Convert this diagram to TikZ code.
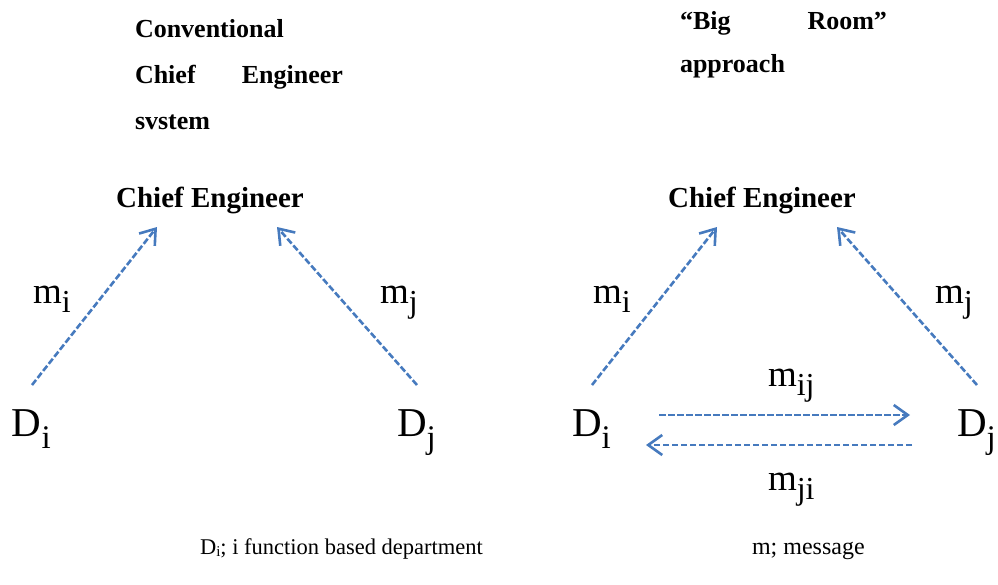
\documentclass[tikz,border=0pt]{standalone}
\usepackage{fontspec}
\setmainfont{Liberation Serif}
\usetikzlibrary{arrows.meta}
\definecolor{arrowblue}{RGB}{70,122,190}
\newcommand\dsub[1]{\raisebox{-12pt}{\fontsize{33}{33}\selectfont #1}}
\newcommand\msub[1]{\raisebox{-9pt}{\fontsize{32}{32}\selectfont #1}}
\begin{document}
\begin{tikzpicture}[x=1pt,y=-1pt,
  txt/.style={anchor=base west,inner sep=0pt,outer sep=0pt},
  head/.style={txt,font=\fontsize{26}{26}\selectfont\bfseries},
  ce/.style={anchor=base,inner sep=0pt,font=\fontsize{29}{29}\selectfont\bfseries},
  dept/.style={txt,font=\fontsize{41}{41}\selectfont},
  msg/.style={txt,font=\fontsize{37}{37}\selectfont},
  foot/.style={txt,font=\fontsize{22.5}{22.5}\selectfont},
  msgarrow/.style={draw=arrowblue,line width=2.6pt,dash pattern=on 6.5pt off 2.5pt,
    -{Straight Barb[length=14pt,width=20pt,line width=2.6pt]}}]
\useasboundingbox (0,0) rectangle (998,584);
% headings
\node[head] (h1) at (135,37) {Conventional};
\node[head] (h2) at (135,83) {\makebox[208pt]{Chief\hfill Engineer}};
\node[head] (h3) at (135,129) {svstem};
\node[head] (h4) at (680,29) {\makebox[207pt]{“Big\hfill Room”}};
\node[head] (h5) at (680,72) {approach};
% left diagram
\node[ce] (ceL) at (210,207) {Chief Engineer};
\node[dept] (diL) at (12,436) {D\dsub{i}};
\node[dept] (djL) at (397,436) {D\dsub{j}};
\node[msg] (miL) at (33,303) {m\msub{i}};
\node[msg] (mjL) at (380,303) {m\msub{j}};
\coordinate (aLs) at (32,385);
\coordinate (aLe) at (157,227);
\coordinate (bLs) at (417,385);
\coordinate (bLe) at (277,227);
\draw[msgarrow] (aLs) -- (aLe);
\draw[msgarrow] (bLs) -- (bLe);
% right diagram
\node[ce] (ceR) at (762,207) {Chief Engineer};
\node[dept] (diR) at (572,436) {D\dsub{i}};
\node[dept] (djR) at (957,436) {D\dsub{j}};
\node[msg] (miR) at (593,303) {m\msub{i}};
\node[msg] (mjR) at (935,303) {m\msub{j}};
\node[msg] (mij) at (768,386) {m\msub{ij}};
\node[msg] (mji) at (768,490) {m\msub{ji}};
\coordinate (aRs) at (592,385);
\coordinate (aRe) at (717,227);
\coordinate (bRs) at (977,385);
\coordinate (bRe) at (837,227);
\coordinate (cRs) at (659,415);
\coordinate (cRe) at (910,415);
\coordinate (dRs) at (912,445);
\coordinate (dRe) at (646,445);
\draw[msgarrow] (aRs) -- (aRe);
\draw[msgarrow] (bRs) -- (bRe);
\draw[msgarrow] (cRs) -- (cRe);
\draw[msgarrow] (dRs) -- (dRe);
% footer
\node[foot] (f1) at (200,554) {D\raisebox{-2pt}{\fontsize{15}{15}\selectfont i}; i function based department};
\node[foot] (f2) at (752,554) {\fontsize{24}{24}\selectfont m; message};
\end{tikzpicture}
\end{document}
